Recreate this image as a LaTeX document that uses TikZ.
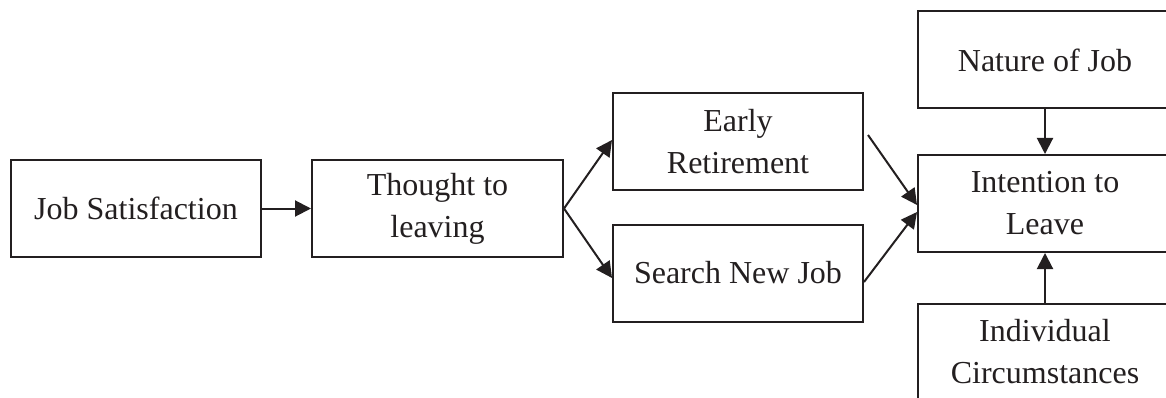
\documentclass[tikz,border=0pt]{standalone}
\usepackage{fontspec}
\setmainfont{Liberation Serif}
\usetikzlibrary{arrows.meta}
\definecolor{ink}{HTML}{231F20}
\begin{document}
\begin{tikzpicture}[x=1pt,y=-1pt,
  box/.style={draw=ink, line width=2pt, text=ink, align=center,
    inner sep=0pt, minimum width=#1, minimum height=97pt,
    font=\fontsize{32}{42}\selectfont},
  box/.default=250pt,
  link/.style={draw=ink, line width=2pt,
    -{Triangle[length=16pt,width=16pt]}}]
\useasboundingbox (0,0) rectangle (1166,398);
% left chain
\node[box] (js) at (136,208.5) {Job Satisfaction};
\node[box=251pt] (tl) at (437.5,208.5) {Thought to\\leaving};
% two outcomes
\node[box] (er) at (738,141.5) {Early\\Retirement};
\node[box] (sj) at (738,273) {Search New Job};
% right column
\node[box=254pt] (il) at (1045,203.5) {Intention to\\Leave};
\node[box=254pt] (nj) at (1045,60) {Nature of Job};
\node[box=254pt] (ic) at (1045,352) {Individual\\Circumstances};
% connectors
\draw[link] (js.east) -- (tl.west);
\draw[link] (tl.east) -- ([yshift=1.5pt]er.west);
\draw[link] (tl.east) -- ([yshift=-5pt]sj.west);
\draw[link] ([xshift=4pt,yshift=6.5pt]er.east) -- ([yshift=-1.5pt]il.west);
\draw[link] ([yshift=-9pt]sj.east) -- ([yshift=-8.5pt]il.west);
\draw[link] (nj.south) -- (il.north);
\draw[link] (ic.north) -- (il.south);
\end{tikzpicture}
\end{document}
